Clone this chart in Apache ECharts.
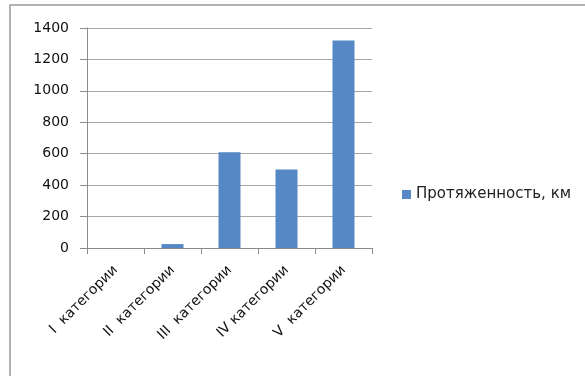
<!DOCTYPE html>
<html>
<head>
<meta charset="utf-8">
<script src="https://cdn.jsdelivr.net/npm/echarts@6/dist/echarts.min.js"></script>
<style>
  html, body { margin: 0; padding: 0; background: #fff; }
  #chart { width: 585px; height: 376px; }
</style>
</head>
<body>
<div id="chart"></div>
<script>
// Road length by category (km)
const categories = ['I  категории', 'II  категории', 'III  категории', 'IV категории', 'V  категории'];
const lengthKm = [0, 25, 610, 500, 1320];
const seriesName = 'Протяженность, км';
const yTicks = { min: 0, max: 1400, interval: 200 };

const chart = echarts.init(document.getElementById('chart'), null, { renderer: 'canvas' });
const font = 'DejaVu Sans, Verdana, sans-serif';

chart.setOption({
  animation: false,
  backgroundColor: '#ffffff',
  graphic: [{
    type: 'rect',
    shape: { x: 10, y: 5, width: 700, height: 500 },
    style: { fill: 'none', stroke: '#9a9a9a', lineWidth: 1.5 },
    silent: true
  }],
  grid: { left: 87, right: 213, top: 28, bottom: 128, containLabel: false },
  legend: {
    data: [seriesName],
    left: 397,
    top: 182,
    icon: 'rect',
    itemWidth: 9,
    itemHeight: 9,
    itemGap: 6,
    textStyle: { fontFamily: font, fontSize: 15, color: '#222' }
  },
  xAxis: {
    type: 'category',
    data: categories,
    boundaryGap: true,
    axisLine: { show: true, lineStyle: { color: '#8c8c8c', width: 1 } },
    axisTick: { show: true, alignWithLabel: false, length: 6, lineStyle: { color: '#8c8c8c' } },
    axisLabel: {
      rotate: 45,
      interval: 0,
      margin: 20,
      fontFamily: font,
      fontSize: 14,
      color: '#111'
    },
    splitLine: { show: false }
  },
  yAxis: {
    type: 'value',
    min: yTicks.min,
    max: yTicks.max,
    interval: yTicks.interval,
    axisLine: { show: true, lineStyle: { color: '#8c8c8c', width: 1 } },
    axisTick: { show: true, length: 7, lineStyle: { color: '#8c8c8c' } },
    axisLabel: {
      margin: 18,
      fontFamily: font,
      fontSize: 14,
      color: '#111',
      formatter: (v) => String(v)
    },
    splitLine: { show: true, lineStyle: { color: '#a8a8a8', width: 1 } }
  },
  series: [{
    name: seriesName,
    type: 'bar',
    data: lengthKm,
    barWidth: 22,
    itemStyle: { color: '#5688c5' }
  }]
});
</script>
</body>
</html>
